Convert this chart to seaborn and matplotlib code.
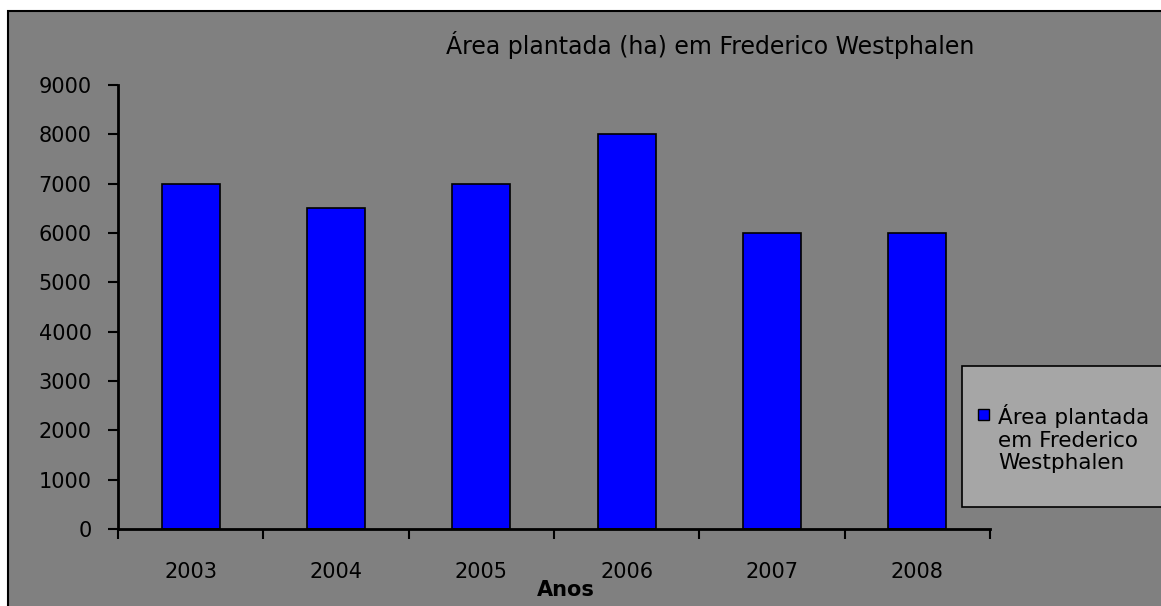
import matplotlib
matplotlib.use("Agg")
import matplotlib.pyplot as plt
import seaborn as sns
import pandas as pd
from matplotlib.patches import Rectangle

years = ["2003", "2004", "2005", "2006", "2007", "2008"]
area = [7000, 6500, 7000, 8000, 6000, 6000]
yticks = [0, 1000, 2000, 3000, 4000, 5000, 6000, 7000, 8000, 9000]
title = "Área plantada (ha) em Frederico Westphalen"
series_name = "Área plantada\nem Frederico\nWestphalen"

sns.set_style("white")
plt.rcParams['font.family'] = ['DejaVu Sans']
plt.rcParams['text.color'] = 'black'
FS = 15

W, H = 1161, 606
fig = plt.figure(figsize=(W/100, H/100), dpi=100, facecolor="white")
bg = Rectangle((8/W, -0.01), 1.2, (595/H) + 0.01, transform=fig.transFigure,
               facecolor="#808080", edgecolor="black", linewidth=1.5, zorder=-10)
fig.patches.append(bg)

ax = fig.add_axes([118/W, 1-529/H, (990-118)/W, (529-85)/H])
ax.set_zorder(5)
ax.set_facecolor("none")
df = pd.DataFrame({"Ano": years, "Area": area})
sns.barplot(data=df, x="Ano", y="Area", ax=ax, color="#0000FF", saturation=1,
            width=0.4, edgecolor="black", linewidth=1.2)
ax.set_xlim(-0.5, 5.5)
ax.set_ylim(0, 9000)
ax.set_yticks(yticks)
ax.set_yticklabels([str(v) for v in yticks], fontsize=FS, color="black")
ax.tick_params(axis="y", direction="out", length=7, width=1.5, pad=12, colors="black", left=True)
ax.set_xticks([i - 0.5 for i in range(len(years) + 1)])
ax.set_xticklabels([])
ax.set_xticks(range(len(years)), minor=True)
ax.set_xticklabels(years, minor=True, fontsize=FS, color="black")
ax.tick_params(axis="x", which="major", direction="out", length=7, width=1.5, bottom=True, colors="black")
ax.tick_params(axis="x", which="minor", length=0, pad=24)
ax.set_xlabel("")
ax.set_ylabel("")
for s in ["top", "right"]:
    ax.spines[s].set_visible(False)
for s in ["left", "bottom"]:
    ax.spines[s].set_color("black")
    ax.spines[s].set_linewidth(2)

fig.text(710/W, 1-45/H, title, ha="center", va="center", fontsize=17, color="black")
fig.text(566/W, 1-590/H, "Anos", ha="center", va="center", fontsize=FS, fontweight="bold", color="black")

lg = Rectangle((962/W, 1-507/H), 0.3, (507-366)/H, transform=fig.transFigure,
               facecolor="#A6A6A6", edgecolor="black", linewidth=1.2, zorder=10)
fig.patches.append(lg)
mk = Rectangle((978/W, 1-420/H), 11/W, 11/H, transform=fig.transFigure,
               facecolor="#0000FF", edgecolor="black", linewidth=1, zorder=11)
fig.patches.append(mk)
fig.text(998/W, 1-404/H, series_name, ha="left", va="top", fontsize=15.5,
         linespacing=1.17, color="black", zorder=12)

fig.savefig("out.png", dpi=100, facecolor="white")
